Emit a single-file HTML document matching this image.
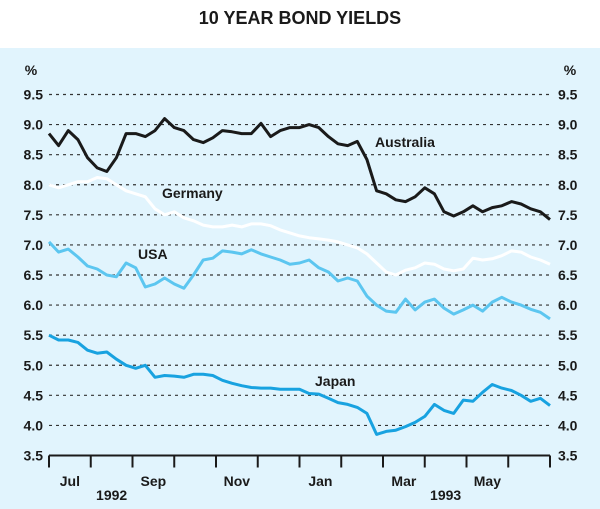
<!DOCTYPE html>
<html><head><meta charset="utf-8"><style>
body{margin:0;background:#fff;}
svg{display:block;font-family:"Liberation Sans",Arial,sans-serif;}
</style></head><body>
<svg id="chart" width="600" height="509" viewBox="0 0 600 509">
<rect x="0" y="48" width="600" height="461" fill="#e1f4fd"/>
<text x="300" y="24" text-anchor="middle" font-size="18" font-weight="bold" fill="#1a1a1a">10 YEAR BOND YIELDS</text>
<g id="grid"></g><g id="axes"></g><g id="series"></g><g id="labels"></g>
</svg>
<script>
const yTicks=[3.5,4.0,4.5,5.0,5.5,6.0,6.5,7.0,7.5,8.0,8.5,9.0,9.5];
const monthLabels=["Jul","Sep","Nov","Jan","Mar","May"];
const monthLabelPos=[0.5,2.5,4.5,6.5,8.5,10.5];
const yearLabels=["1992","1993"];
const yearLabelPos=[1.5,9.5];
const australia=[8.85,8.65,8.9,8.75,8.45,8.28,8.22,8.45,8.85,8.85,8.8,8.9,9.1,8.95,8.9,8.75,8.7,8.78,8.9,8.88,8.85,8.85,9.02,8.8,8.9,8.95,8.95,9.0,8.95,8.8,8.68,8.65,8.72,8.42,7.9,7.85,7.75,7.72,7.8,7.95,7.85,7.55,7.48,7.55,7.65,7.55,7.62,7.65,7.72,7.68,7.6,7.55,7.42];
const germany=[8.0,7.95,8.0,8.05,8.05,8.12,8.1,8.0,7.9,7.85,7.8,7.6,7.5,7.55,7.45,7.4,7.33,7.3,7.3,7.33,7.3,7.35,7.35,7.32,7.25,7.2,7.15,7.12,7.1,7.08,7.05,7.0,6.95,6.85,6.7,6.55,6.5,6.58,6.62,6.7,6.68,6.6,6.57,6.6,6.78,6.75,6.77,6.82,6.9,6.88,6.8,6.75,6.68];
const usa=[7.05,6.88,6.93,6.8,6.65,6.6,6.5,6.47,6.7,6.62,6.3,6.35,6.45,6.35,6.28,6.5,6.75,6.78,6.9,6.88,6.85,6.92,6.85,6.8,6.75,6.68,6.7,6.75,6.62,6.55,6.4,6.45,6.4,6.15,6.0,5.9,5.88,6.1,5.92,6.05,6.1,5.95,5.85,5.92,6.0,5.9,6.05,6.13,6.05,6.0,5.93,5.88,5.77];
const japan=[5.5,5.42,5.42,5.38,5.25,5.2,5.22,5.1,5.0,4.95,5.0,4.8,4.83,4.82,4.8,4.85,4.85,4.83,4.75,4.7,4.66,4.63,4.62,4.62,4.6,4.6,4.6,4.53,4.52,4.45,4.38,4.35,4.3,4.2,3.85,3.9,3.92,3.98,4.05,4.15,4.35,4.25,4.2,4.42,4.4,4.55,4.68,4.62,4.58,4.5,4.4,4.45,4.33];
const NS="http://www.w3.org/2000/svg";
const X0=49,X1=550,YTOP=94.5,YBOT=455.5;
const yScale=v=>YBOT-(v-3.5)/(9.5-3.5)*(YBOT-YTOP);
const xWeek=i=>X0+i*(X1-X0)/52;
const xMonth=m=>X0+m*(X1-X0)/12;
function mk(tag,attrs,parent){const e=document.createElementNS(NS,tag);for(const k in attrs)e.setAttribute(k,attrs[k]);parent.appendChild(e);return e;}
const grid=document.getElementById('grid'),axes=document.getElementById('axes'),series=document.getElementById('series'),labels=document.getElementById('labels');
yTicks.forEach(v=>{
  const y=yScale(v);
  if(v>3.5){const g=mk('line',{x1:X0,x2:X1,y1:y,y2:y,stroke:'#333','stroke-width':1.2,'stroke-dasharray':'3,4'},grid);
  
  }
  const l=mk('text',{x:43,y:y+5,'text-anchor':'end','font-size':14,'font-weight':'bold',fill:'#1a1a1a'},labels);l.textContent=v.toFixed(1);
  
  
  const r=mk('text',{x:558,y:y+5,'text-anchor':'start','font-size':14,'font-weight':'bold',fill:'#1a1a1a'},labels);r.textContent=v.toFixed(1);
  
  
});
const pl=mk('text',{x:31,y:75,'text-anchor':'middle','font-size':14,'font-weight':'bold',fill:'#1a1a1a'},labels);pl.textContent='%';


const pr=mk('text',{x:570,y:75,'text-anchor':'middle','font-size':14,'font-weight':'bold',fill:'#1a1a1a'},labels);pr.textContent='%';


const ax=mk('line',{x1:X0,x2:X1,y1:YBOT,y2:YBOT,stroke:'#1a1a1a','stroke-width':2},axes);


for(let m=0;m<=12;m++){const t=mk('line',{x1:xMonth(m),x2:xMonth(m),y1:YBOT,y2:YBOT+12,stroke:'#1a1a1a','stroke-width':2},axes);

}
monthLabels.forEach((s,i)=>{const t=mk('text',{x:xMonth(monthLabelPos[i]),y:486,'text-anchor':'middle','font-size':14,'font-weight':'bold',fill:'#1a1a1a'},labels);t.textContent=s;

});
yearLabels.forEach((s,i)=>{const t=mk('text',{x:xMonth(yearLabelPos[i]),y:500,'text-anchor':'middle','font-size':14,'font-weight':'bold',fill:'#1a1a1a'},labels);t.textContent=s;

});
function line(data,color,name){const d=data.map((v,i)=>(i?'L':'M')+xWeek(i).toFixed(1)+','+yScale(v).toFixed(1)).join('');
const p=mk('path',{d:d,fill:'none',stroke:color,'stroke-width':3,'stroke-linejoin':'round'},series);

}
line(germany,'#ffffff','germany-line');
line(usa,'#5cc6f0','usa-line');
line(japan,'#18a2e0','japan-line');
line(australia,'#1a1a1a','australia-line');
const sl=[["Australia",375,147,'australia-label'],["Germany",162,198,'germany-label'],["USA",138,259,'usa-label'],["Japan",315,386,'japan-label']];
sl.forEach(s=>{const t=mk('text',{x:s[1],y:s[2],'font-size':14,'font-weight':'bold',fill:'#1a1a1a'},labels);t.textContent=s[0];

});
</script>
</body></html>
